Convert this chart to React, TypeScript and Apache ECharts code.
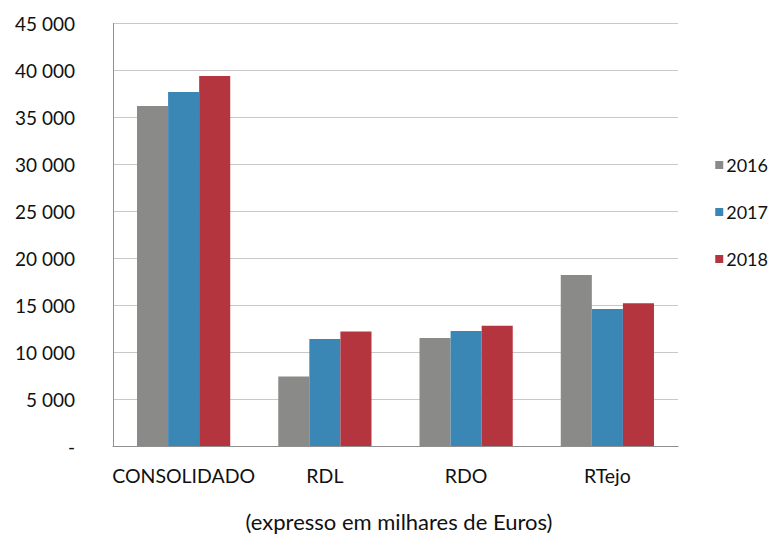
import React, { useEffect, useRef } from "react";
import * as echarts from "echarts";

// Receitas por entidade, em milhares de euros
const categories = ["CONSOLIDADO", "RDL", "RDO", "RTejo"];
const years = ["2016", "2017", "2018"];
const values2016 = [36200, 7400, 11500, 18200];
const values2017 = [37700, 11400, 12250, 14600];
const values2018 = [39400, 12200, 12800, 15200];
const yearColors = ["#8a8b88", "#3a87b5", "#b5353f"];
const subtitle = "(expresso em milhares de Euros)";

const FONT = "Lato, 'Open Sans', sans-serif";
const TEXT = "#111111";

function formatThousands(v: number): string {
  if (v === 0) return "-";
  const s = String(v);
  return s.slice(0, s.length - 3) + " " + s.slice(s.length - 3);
}

export default function App() {
  const ref = useRef<HTMLDivElement>(null);

  useEffect(() => {
    if (!ref.current) return;
    const chart = echarts.init(ref.current, null, { renderer: "svg" });
    const seriesValues = [values2016, values2017, values2018];
    chart.setOption({
      animation: false,
      backgroundColor: "#ffffff",
      textStyle: { fontFamily: FONT },
      grid: { left: 113, right: 99, top: 23.5, bottom: 89 },
      legend: {
        orient: "vertical",
        right: 4,
        top: 151,
        itemWidth: 8,
        itemHeight: 8,
        itemGap: 29,
        icon: "rect",
        textStyle: { fontSize: 18, color: TEXT, fontFamily: FONT, padding: [0, 0, 0, -2] },
        data: years,
      },
      xAxis: {
        type: "category",
        data: categories,
        axisLine: { lineStyle: { color: "#8f8f8f", width: 1 } },
        axisTick: { show: false },
        axisLabel: { interval: 0, fontSize: 19.5, color: TEXT, fontFamily: FONT, margin: 19 },
      },
      yAxis: {
        type: "value",
        min: 0,
        max: 45000,
        interval: 5000,
        axisLine: { show: true, lineStyle: { color: "#8f8f8f", width: 1 } },
        axisTick: { show: false },
        splitLine: { lineStyle: { color: "#c8c8c8", width: 1 } },
        axisLabel: {
          fontSize: 19,
          color: TEXT,
          fontFamily: FONT,
          margin: 38,
          align: "right",
          formatter: (v: number) => formatThousands(v),
        },
      },
      series: years.map((y, i) => ({
        name: y,
        type: "bar",
        data: seriesValues[i],
        barGap: "0%",
        barCategoryGap: "34%",
        itemStyle: { color: yearColors[i] },
      })),
      graphic: [
        {
          type: "text",
          x: 399,
          y: 521,
          style: {
            text: subtitle,
            fontSize: 22,
            fontFamily: FONT,
            fill: TEXT,
            textAlign: "center",
            textVerticalAlign: "middle",
          },
        },
      ],
    });
    return () => chart.dispose();
  }, []);

  return <div ref={ref} style={{ width: 777, height: 535, position: "absolute", left: 0, top: 0 }} />;
}
